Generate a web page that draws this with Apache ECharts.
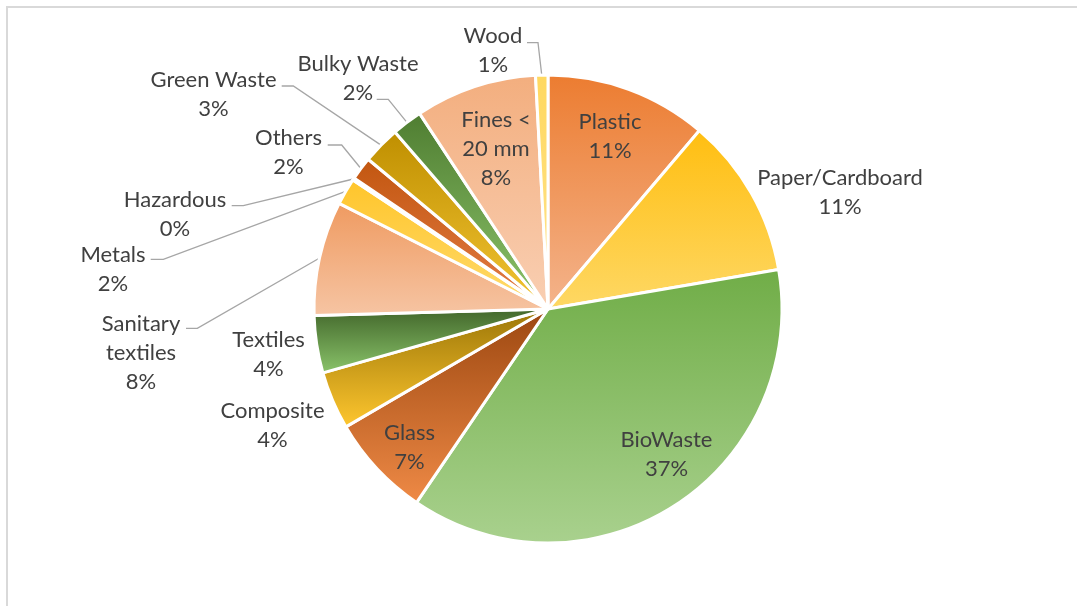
<!DOCTYPE html>
<html>
<head>
<meta charset="utf-8">
<script src="https://cdn.jsdelivr.net/npm/echarts@6/dist/echarts.min.js"></script>
<style>
  html, body { margin: 0; padding: 0; background: #ffffff; }
  #chart { width: 1077px; height: 606px; }
</style>
</head>
<body>
<div id="chart"></div>
<script>
// Waste composition by fraction, share of total (%)
const categories = [
  'Plastic', 'Paper/Cardboard', 'BioWaste', 'Glass', 'Composite', 'Textiles',
  'Sanitary textiles', 'Metals', 'Hazardous', 'Others', 'Green Waste',
  'Bulky Waste', 'Fines < 20 mm', 'Wood'
];
const shares = [11.2, 11.1, 37.2, 7.1, 4.0, 3.95, 7.9, 1.85, 0.15, 1.6, 2.6, 2.1, 8.4, 0.85];

// Names that are set on two lines in their label
const wrappedNames = {
  'Sanitary textiles': 'Sanitary\ntextiles',
  'Fines < 20 mm': 'Fines <\n20 mm'
};

// Vertical gradient (top, bottom) for each slice
const fills = {
  'Plastic':           ['#EC7C30', '#F4B48C'],
  'Paper/Cardboard':   ['#FFBE10', '#FED865'],
  'BioWaste':          ['#70AD47', '#A9D18E'],
  'Glass':             ['#9C4710', '#EF8A46'],
  'Composite':         ['#9A7507', '#FFC72F'],
  'Textiles':          ['#41652A', '#8BC56B'],
  'Sanitary textiles': ['#EF9A60', '#F6C5A4'],
  'Metals':            ['#FFC52A', '#FFDB6E'],
  'Hazardous':         ['#8FC36D', '#B9DBA2'],
  'Others':            ['#C2560F', '#E47D48'],
  'Green Waste':       ['#BF8F00', '#F3C534'],
  'Bulky Waste':       ['#4F7D31', '#8DC56C'],
  'Fines < 20 mm':     ['#F3AE7E', '#F9CFB3'],
  'Wood':              ['#FFD85F', '#FFE38F']
};

// Label block centres; leader lines get an elbow and an attach point
const labelPlacement = {
  'Plastic':           { c: [610, 136] },
  'Paper/Cardboard':   { c: [840, 192.5] },
  'BioWaste':          { c: [666.5, 454] },
  'Glass':             { c: [409.5, 447] },
  'Composite':         { c: [272.5, 425] },
  'Textiles':          { c: [268.5, 354] },
  'Sanitary textiles': { c: [141, 352.5], line: [[197.3, 328.3], [186, 328.3]] },
  'Metals':            { c: [113, 269],   line: [[163.3, 259.3], [150.7, 259.3]] },
  'Hazardous':         { c: [175, 214.5], line: [[243.3, 205.7], [231.7, 205.7]] },
  'Others':            { c: [288.5, 152], line: [[341.7, 145], [327.7, 145]] },
  'Green Waste':       { c: [213.5, 94.5], line: [[293.3, 86], [281.7, 86]] },
  'Bulky Waste':       { c: [358, 78.3],  line: [[388.3, 99.3], [376.7, 99.3]] },
  'Fines < 20 mm':     { c: [496, 149] },
  'Wood':              { c: [493, 50],    line: [[538, 42.7], [527, 42.7]] }
};

const total = shares.reduce((a, b) => a + b, 0);

function gradient(pair) {
  return {
    type: 'linear', x: 0, y: 0, x2: 0, y2: 1,
    colorStops: [{ offset: 0, color: pair[0] }, { offset: 1, color: pair[1] }]
  };
}

const chart = echarts.init(document.getElementById('chart'), null, { renderer: 'canvas' });

chart.setOption({
  animation: false,
  backgroundColor: '#ffffff',
  graphic: [{
    type: 'rect',
    silent: true,
    z: -10,
    shape: { x: 7, y: 7, width: 1200, height: 800 },
    style: { fill: 'none', stroke: '#D9D9D9', lineWidth: 2 }
  }],
  series: [{
    type: 'pie',
    center: [548, 309],
    radius: 234,
    startAngle: 90,
    clockwise: true,
    avoidLabelOverlap: false,
    emphasis: { disabled: true },
    itemStyle: { borderColor: '#ffffff', borderWidth: 3 },
    label: {
      show: true,
      position: 'outside',
      color: '#404040',
      fontFamily: 'Lato',
      fontSize: 22,
      lineHeight: 29,
      align: 'center',
      formatter: p => (wrappedNames[p.name] || p.name) + '\n' + Math.round(p.value / total * 100) + '%'
    },
    labelLine: {
      show: true,
      length: 10,
      length2: 10,
      lineStyle: { color: '#A6A6A6', width: 1.3 }
    },
    labelLayout: function (params) {
      const pl = labelPlacement[categories[params.dataIndex]];
      const out = { x: pl.c[0], y: pl.c[1], align: 'center', verticalAlign: 'middle' };
      if (pl.line && params.labelLinePoints) {
        out.labelLinePoints = [params.labelLinePoints[0], pl.line[0], pl.line[1]];
      }
      return out;
    },
    data: categories.map((name, i) => ({
      name: name,
      value: shares[i],
      itemStyle: { color: gradient(fills[name]) },
      labelLine: { show: !!labelPlacement[name].line }
    }))
  }]
});
</script>
</body>
</html>
